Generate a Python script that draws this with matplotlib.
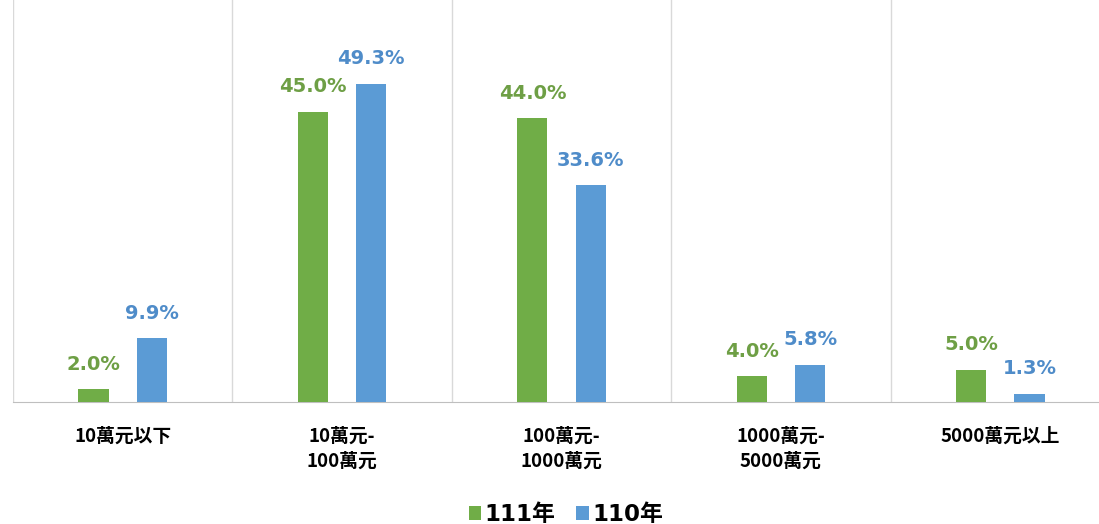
import matplotlib
matplotlib.use("Agg")
import matplotlib.pyplot as plt
import numpy as np

categories = ["10萬元以下", "10萬元-\n100萬元", "100萬元-\n1000萬元", "1000萬元-\n5000萬元", "5000萬元以上"]
series_names = ["111年", "110年"]
values_111 = [2.0, 45.0, 44.0, 4.0, 5.0]
values_110 = [9.9, 49.3, 33.6, 5.8, 1.3]

green = "#70AD47"
blue = "#5B9BD5"
green_txt = "#6E9F45"
blue_txt = "#4F8CC9"

plt.rcParams['font.family'] = ['DejaVu Sans', 'Noto Sans CJK TC']

fig = plt.figure(figsize=(10.99, 5.24), dpi=100)
ax = fig.add_axes([13/1099, 1 - 402/524, 1097/1099, 402/524])

x = np.arange(len(categories))
w = 0.137
off = 0.133
b1 = ax.bar(x - off, values_111, w, color=green, label=series_names[0], zorder=3)
b2 = ax.bar(x + off, values_110, w, color=blue, label=series_names[1], zorder=3)

for xi, v in zip(x, values_111):
    ax.text(xi - off, v + 2.4, f"{v:.1f}%", ha="center", va="bottom",
            color=green_txt, fontsize=14, fontweight="bold")
for xi, v in zip(x, values_110):
    ax.text(xi + off, v + 2.4, f"{v:.1f}%", ha="center", va="bottom",
            color=blue_txt, fontsize=14, fontweight="bold")

ax.set_xlim(-0.5, len(categories) - 0.5)
ax.set_ylim(0, 62.3)
ax.set_yticks([])
ax.set_xticks(x)
ax.set_xticklabels(categories, fontsize=13.5, fontweight="bold",
                   family=['Noto Sans CJK TC'], linespacing=1.4)
ax.tick_params(axis="x", length=0, pad=18)
for sep in np.arange(-0.5, len(categories) + 0.5, 1.0):
    ax.axvline(sep, color="#D9D9D9", lw=1, zorder=1)
for s in ["top", "right", "left"]:
    ax.spines[s].set_visible(False)
ax.spines["bottom"].set_color("#BFBFBF")

leg = fig.legend(handles=[b1, b2], labels=series_names, loc="lower center",
                 bbox_to_anchor=(0.515, -0.043), ncol=2, frameon=False,
                 prop={"family": ["DejaVu Sans", "Noto Sans CJK TC"], "weight": "bold", "size": 16.5},
                 handlelength=0.55, handleheight=0.55, handletextpad=0.15, columnspacing=0.9)

fig.savefig("out.png", dpi=100)
